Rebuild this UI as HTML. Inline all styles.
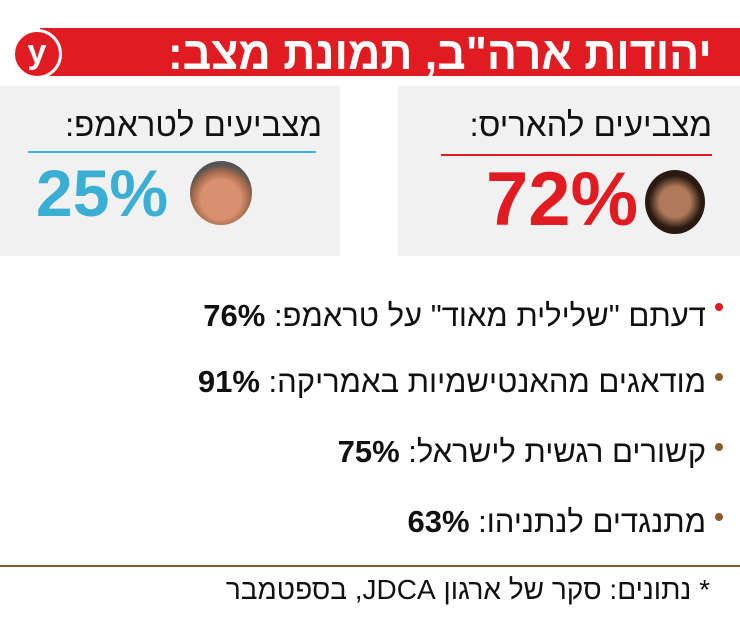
<!DOCTYPE html>
<html><head><meta charset="utf-8"><style>
body{margin:0;width:740px;height:618px;background:#fff;position:relative;overflow:hidden;font-family:"Liberation Sans","DejaVu Sans",sans-serif;}
.a{position:absolute;white-space:nowrap;direction:rtl;}
</style></head><body>
<div style="position:absolute;left:40px;top:28px;width:700px;height:48px;background:#e11b22"></div>
<div style="position:absolute;left:12px;top:29px;width:44px;height:44px;border-radius:50%;background:#e11b22;border:3px solid #fff;color:#fff;font-weight:bold;font-size:34px;line-height:40px;text-align:center">y</div>
<div class="a" style="right:28px;top:29px;font-size:46px;font-weight:bold;color:#fff;line-height:48px;transform:scaleX(0.97);transform-origin:right">יהודות ארה"ב, תמונת מצב:</div>

<div style="position:absolute;left:0;top:86px;width:340px;height:170px;background:#f1f1f1"></div>
<div style="position:absolute;left:398px;top:86px;width:342px;height:170px;background:#f1f1f1"></div>

<div class="a" style="right:28px;top:106px;font-size:33px;color:#111">מצביעים להאריס:</div>
<div style="position:absolute;left:441px;top:154px;width:271px;height:2px;background:#e11b22"></div>
<div class="a" style="left:486px;top:160px;direction:ltr;font-size:76px;font-weight:bold;color:#e11b22;line-height:80px">72%</div>
<div style="position:absolute;left:645px;top:170px;width:60px;height:64px;border-radius:50%;background:radial-gradient(circle at 50% 50%,#b07a5a 0 35%,#2a1a12 60%)"></div>

<div class="a" style="right:418px;top:106px;font-size:33px;color:#111">מצביעים לטראמפ:</div>
<div style="position:absolute;left:28px;top:151px;width:288px;height:2px;background:#3db6d6"></div>
<div class="a" style="left:36px;top:158px;direction:ltr;font-size:66px;font-weight:bold;color:#3aaed3;line-height:70px">25%</div>
<div style="position:absolute;left:190px;top:161px;width:62px;height:64px;border-radius:50%;background:radial-gradient(circle at 50% 60%,#d99070 0 40%,#a0684a 58%,#555 70%)"></div>

<div style="position:absolute;left:715px;top:303px;width:8px;height:8px;border-radius:50%;background:#e11b22"></div>
<div class="a" style="right:34px;top:298px;font-size:31px;color:#111">דעתם "שלילית מאוד" על טראמפ: <b>76%</b></div>
<div style="position:absolute;left:715px;top:373px;width:8px;height:8px;border-radius:50%;background:#8b5a2b"></div>
<div class="a" style="right:34px;top:364px;font-size:31px;color:#111">מודאגים מהאנטישמיות באמריקה: <b>91%</b></div>
<div style="position:absolute;left:715px;top:443px;width:8px;height:8px;border-radius:50%;background:#8b5a2b"></div>
<div class="a" style="right:34px;top:434px;font-size:31px;color:#111">קשורים רגשית לישראל: <b>75%</b></div>
<div style="position:absolute;left:715px;top:513px;width:8px;height:8px;border-radius:50%;background:#8b5a2b"></div>
<div class="a" style="right:34px;top:504px;font-size:31px;color:#111">מתנגדים לנתניהו: <b>63%</b></div>

<div style="position:absolute;left:0;top:565px;width:740px;height:2px;background:#8b5a2b"></div>
<div class="a" style="right:30px;top:574px;font-size:28px;color:#111">* נתונים: סקר של ארגון JDCA, בספטמבר</div>
</body></html>
